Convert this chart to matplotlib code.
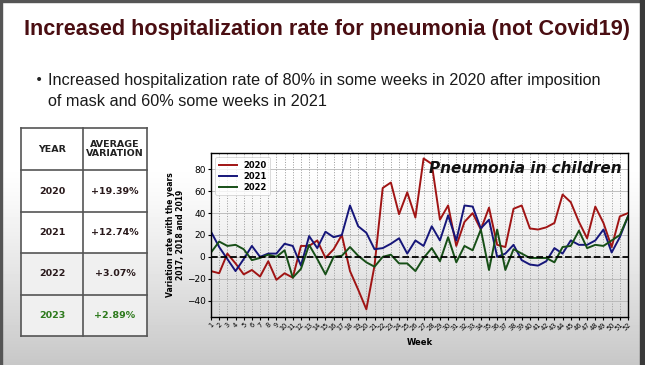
import numpy as np
import matplotlib.pyplot as plt
from matplotlib.patches import Rectangle

# ---- data ----
weeks = list(range(1, 53))
y2020 = [-13, -15, 3, -6, -16, -12, -18, -4, -21, -15, -19, 10, 10, 15, -1, 7, 20, -13, -30, -48,
         -8, 63, 68, 39, 59, 36, 90, 85, 34, 47, 10, 32, 40, 25, 45, 11, 9, 44, 47, 26,
         25, 27, 31, 57, 50, 32, 17, 46, 31, 9, 37, 40]
y2021 = [23, 9, -2, -13, -2, 10, 0, 3, 3, 12, 10, -8, 19, 8, 23, 18, 20, 47, 28, 22,
         7, 8, 12, 17, 3, 15, 10, 28, 15, 38, 15, 47, 46, 26, 34, 0, 3, 11, -3, -7,
         -8, -4, 8, 3, 15, 11, 11, 15, 25, 4, 18, 37]
y2022 = [4, 14, 10, 11, 7, -3, -1, 2, 0, 6, -19, -11, 11, -2, -16, 0, 1, 9, 1, -5,
         -9, 0, 2, -6, -6, -13, -1, 8, -4, 18, -5, 10, 6, 25, -12, 25, -12, 7, 3, -1,
         -1, -1, -5, 9, 10, 24, 8, 11, 10, 15, 20, 37]

table_years = ["2020", "2021", "2022", "2023"]
table_avg = ["+19.39%", "+12.74%", "+3.07%", "+2.89%"]

font = "Liberation Sans"
W, H = 645, 365
fig = plt.figure(figsize=(W / 100, H / 100), dpi=100)

# slide background in pixel coordinates
bg = fig.add_axes([0, 0, 1, 1])
bg.set_xlim(0, W)
bg.set_ylim(H, 0)
bg.axis("off")
rows = np.arange(H)
shade = np.where(rows < 165, 1.0, 1.0 - 0.22 * ((rows - 165) / (H - 165)) ** 1.2)
grad = np.repeat(shade[:, None], 10, axis=1)
bg.imshow(grad, cmap="gray", vmin=0, vmax=1, extent=[0, W, H, 0], aspect="auto", zorder=0)
bg.add_patch(Rectangle((0, 0), W, 2, color="#555555", zorder=1))
bg.add_patch(Rectangle((0, 0), 1.5, H, color="#555555", zorder=1))
bg.add_patch(Rectangle((640, 0), 5, H, color="#3a3a3a", zorder=1))

# title and bullet
bg.text(327, 29, "Increased hospitalization rate for pneumonia (not Covid19)", family=font,
        fontsize=15.6, fontweight="bold", color="#4a0e12", va="center", ha="center")
bg.text(35, 80, "\u2022", fontsize=10, color="#222222", va="center", ha="left")
bg.text(48, 80, "Increased hospitalization rate of 80% in some weeks in 2020 after imposition",
        family=font, fontsize=11.7, color="#1a1a1a", va="center", ha="left")
bg.text(48, 101, "of mask and 60% some weeks in 2021",
        family=font, fontsize=11.7, color="#1a1a1a", va="center", ha="left")

# table
tx = [21, 83, 147]
ty = [128, 170, 212, 253, 295, 336]
for i in range(len(ty) - 1):
    fc = "#ffffff" if i < 3 else "#f0f0f0"
    bg.add_patch(Rectangle((tx[0], ty[i]), tx[2] - tx[0], ty[i + 1] - ty[i], facecolor=fc,
                           edgecolor="none", zorder=2))
for x in tx:
    bg.plot([x, x], [ty[0], ty[-1]], color="#555555", lw=1.2, zorder=3)
for y in ty:
    bg.plot([tx[0], tx[-1]], [y, y], color="#555555", lw=1.2, zorder=3)
cx1 = (tx[0] + tx[1]) / 2
cx2 = (tx[1] + tx[2]) / 2
bg.text(cx1, (ty[0] + ty[1]) / 2, "YEAR", fontsize=6.8, fontweight="bold", color="#222222",
        ha="center", va="center", zorder=4)
bg.text(cx2, (ty[0] + ty[1]) / 2, "AVERAGE\nVARIATION", fontsize=6.8, fontweight="bold",
        color="#222222", ha="center", va="center", linespacing=1.05, zorder=4)
for i, (yr, av) in enumerate(zip(table_years, table_avg)):
    col = "#2d7a1c" if yr == "2023" else "#2a1a1c"
    ymid = (ty[i + 1] + ty[i + 2]) / 2
    bg.text(cx1, ymid, yr, fontsize=6.8, fontweight="bold", color=col, ha="center",
            va="center", zorder=4)
    bg.text(cx2, ymid, av, fontsize=6.8, fontweight="bold", color=col, ha="center",
            va="center", zorder=4)

# chart
ax = fig.add_axes([211 / W, 1 - 317 / H, 417 / W, 164 / H])
ax.set_facecolor("none")
ax.plot(weeks, y2020, color="#a01414", lw=1.4, label="2020")
ax.plot(weeks, y2021, color="#16167a", lw=1.4, label="2021")
ax.plot(weeks, y2022, color="#174f17", lw=1.4, label="2022")
ax.axhline(0, color="black", ls="--", lw=1.3, zorder=3)
ax.set_xlim(1, 52)
ax.set_ylim(-55, 95)
ax.set_yticks([-40, -20, 0, 20, 40, 60, 80])
ax.set_xticks(weeks)
ax.set_xticklabels([str(w) for w in weeks], rotation=45, fontsize=4.8, ha="right",
                   rotation_mode="anchor")
ax.tick_params(axis="y", labelsize=6.5, length=2.5, pad=1.5)
ax.tick_params(axis="x", length=2, pad=1.5)
ax.grid(axis="x", color="#9a9a9a", ls=":", lw=0.7)
ax.grid(axis="y", color="#b5b5b5", ls="-", lw=0.6)
for s in ax.spines.values():
    s.set_color("black")
    s.set_linewidth(1.0)
ax.set_xlabel("Week", fontsize=6, fontweight="bold", labelpad=4)
ax.set_ylabel("Variation rate with the years\n2017, 2018 and 2019", fontsize=5.5,
              fontweight="bold", labelpad=1, linespacing=1.1)
leg = ax.legend(loc="upper left", prop={"weight": "bold", "size": 6},
                frameon=True, handlelength=2.2, borderpad=0.4, labelspacing=0.25)
leg.get_frame().set_edgecolor("#cccccc")
leg.get_frame().set_linewidth(0.6)
ax.text(0.985, 0.95, "Pneumonia in children", transform=ax.transAxes, ha="right", va="top",
        fontsize=11, fontweight="bold", style="italic", color="#111111")

fig.savefig("out.png", dpi=100)
